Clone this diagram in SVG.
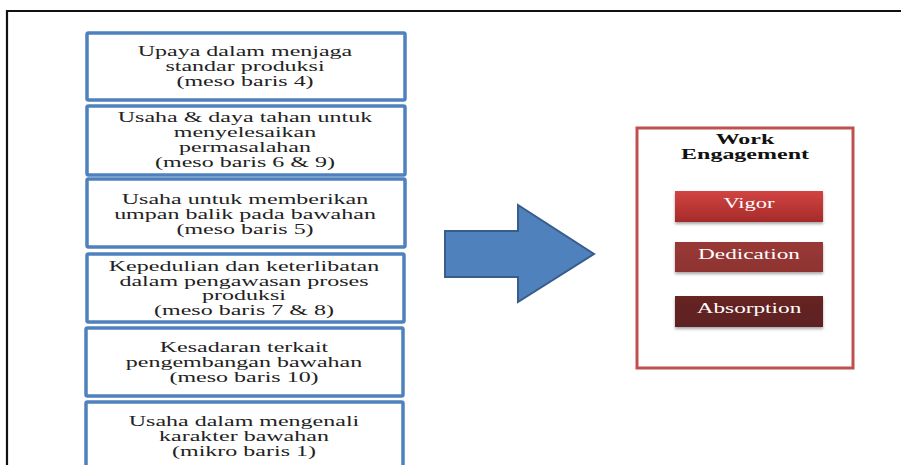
<svg xmlns="http://www.w3.org/2000/svg" width="901" height="465" viewBox="0 0 901 465">
<defs>
<style>
.box{fill:#fff;stroke:#4f81bd;stroke-width:3.5}
text{font-family:'Liberation Serif','DejaVu Serif',serif;font-size:15px;text-anchor:middle}
.t{fill:#222}
.w{fill:#fff}
.b{font-weight:bold;fill:#111}
</style>
<linearGradient id="gV" x1="0" y1="0" x2="0" y2="1"><stop offset="0" stop-color="#d24442"/><stop offset="1" stop-color="#a52b2a"/></linearGradient>
<linearGradient id="gD" x1="0" y1="0" x2="0" y2="1"><stop offset="0" stop-color="#993937"/><stop offset="1" stop-color="#8f3331"/></linearGradient>
<linearGradient id="gA" x1="0" y1="0" x2="0" y2="1"><stop offset="0" stop-color="#672524"/><stop offset="1" stop-color="#5e2120"/></linearGradient>
<filter id="sh" x="-10%" y="-20%" width="120%" height="150%"><feDropShadow dx="0" dy="2" stdDeviation="1.5" flood-color="#000" flood-opacity="0.35"/></filter>
</defs>
<rect width="901" height="465" fill="#fff"/>
<g id="frame" fill="none" stroke="#111" stroke-width="2.2">
<path d="M7 465 V11 H901"/>
</g>

<g id="n1"><rect class="box" x="87" y="33" width="318" height="67" rx="1.5"/>
<text class="t" transform="matrix(1.6 0 0 1 245 56)">Upaya dalam menjaga</text>
<text class="t" transform="matrix(1.6 0 0 1 245 71)">standar produksi</text>
<text class="t" transform="matrix(1.6 0 0 1 245 86)">(meso baris 4)</text></g>

<g id="n2"><rect class="box" x="87" y="106" width="318" height="69" rx="1.5"/>
<text class="t" transform="matrix(1.6 0 0 1 245 122)">Usaha &amp; daya tahan untuk</text>
<text class="t" transform="matrix(1.6 0 0 1 245 137)">menyelesaikan</text>
<text class="t" transform="matrix(1.6 0 0 1 245 152)">permasalahan</text>
<text class="t" transform="matrix(1.6 0 0 1 245 167)">(meso baris 6 &amp; 9)</text></g>

<g id="n3"><rect class="box" x="87" y="179" width="318" height="68" rx="1.5"/>
<text class="t" transform="matrix(1.6 0 0 1 245 204)">Usaha untuk memberikan</text>
<text class="t" transform="matrix(1.6 0 0 1 245 219)">umpan balik pada bawahan</text>
<text class="t" transform="matrix(1.6 0 0 1 245 234)">(meso baris 5)</text></g>

<g id="n4"><rect class="box" x="87" y="254" width="317" height="68" rx="1.5"/>
<text class="t" transform="matrix(1.6 0 0 1 244 271)">Kepedulian dan keterlibatan</text>
<text class="t" transform="matrix(1.6 0 0 1 244 286)">dalam pengawasan proses</text>
<text class="t" transform="matrix(1.6 0 0 1 244 300)">produksi</text>
<text class="t" transform="matrix(1.6 0 0 1 244 315)">(meso baris 7 &amp; 8)</text></g>

<g id="n5"><rect class="box" x="86" y="328" width="317" height="68" rx="1.5"/>
<text class="t" transform="matrix(1.6 0 0 1 244 352)">Kesadaran terkait</text>
<text class="t" transform="matrix(1.6 0 0 1 244 367)">pengembangan bawahan</text>
<text class="t" transform="matrix(1.6 0 0 1 244 382)">(meso baris 10)</text></g>

<g id="n6"><rect class="box" x="86" y="402" width="317" height="80" rx="1.5"/>
<text class="t" transform="matrix(1.6 0 0 1 244 426)">Usaha dalam mengenali</text>
<text class="t" transform="matrix(1.6 0 0 1 244 441)">karakter bawahan</text>
<text class="t" transform="matrix(1.6 0 0 1 244 456)">(mikro baris 1)</text></g>

<g id="connectors">
<path d="M445 231 H518 V205 L594 254 L518 302 V277 H445 Z" fill="#4f81bd" stroke="#385d8a" stroke-width="2" stroke-linejoin="miter"/>
</g>

<g id="we">
<rect x="637" y="128" width="216" height="240" fill="#fff" stroke="#c0504d" stroke-width="3"/>
<text class="b" transform="matrix(1.6 0 0 1 745 144)">Work</text>
<text class="b" transform="matrix(1.6 0 0 1 745 159)">Engagement</text>
</g>
<g id="vigor"><rect x="675" y="191" width="148" height="31" fill="url(#gV)" filter="url(#sh)"/>
<text class="w" transform="matrix(1.5 0 0 1 749 208)">Vigor</text></g>
<g id="dedication"><rect x="675" y="242" width="148" height="30" fill="url(#gD)" filter="url(#sh)"/>
<text class="w" transform="matrix(1.55 0 0 1 749 259)">Dedication</text></g>
<g id="absorption"><rect x="675" y="296" width="148" height="31" fill="url(#gA)" filter="url(#sh)"/>
<text class="w" transform="matrix(1.55 0 0 1 749 313)">Absorption</text></g>
</svg>
